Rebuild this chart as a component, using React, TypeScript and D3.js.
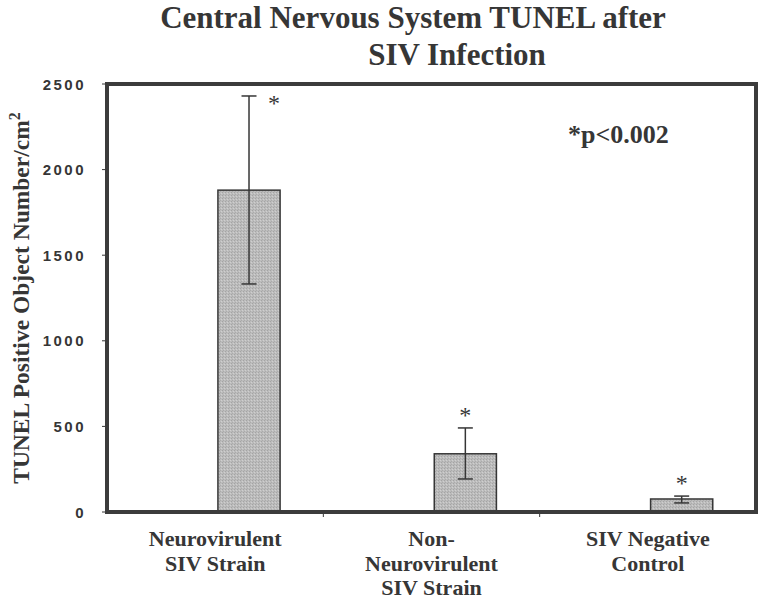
import React from "react"
import * as d3 from "d3"

// data
const categories = ["neuro", "nonNeuro", "negative"]
const categoryLabels = [
    ["Neurovirulent", "SIV Strain"],
    ["Non-", "Neurovirulent", "SIV Strain"],
    ["SIV Negative", "Control"],
]
const means = [1880, 340, 76]
const errLow = [1332, 193, 53]
const errHigh = [2430, 491, 93]
const yTicks = [0, 500, 1000, 1500, 2000, 2500]
const titleLines = ["Central Nervous System TUNEL after", "SIV Infection"]
const note = "*p<0.002"

const W = 761
const H = 600
const frame = { left: 107, right: 756, top: 84, bottom: 512 }
const serif = "'Liberation Serif', 'Times New Roman', serif"
const sans = "'Liberation Sans', Arial, sans-serif"
const ink = "#363636"

export default function App() {
    const y = d3.scaleLinear().domain([0, 2500]).range([frame.bottom, frame.top])
    const x0 = d3.scaleBand<string>().domain(categories).range([frame.left, frame.right])
    // excel-like cluster: an empty first series, bar sits in the second slot
    const x1 = d3.scaleBand<string>()
        .domain(["blank", "data"])
        .range([0, x0.bandwidth()])
        .paddingInner(0)
        .paddingOuter(0.74)
        .align(0.53)

    return (
        <svg width={W} height={H} style={{ position: "absolute", left: 0, top: 0, background: "#fff" }}>
            <defs>
                <pattern id="stipple" width="3" height="3" patternUnits="userSpaceOnUse">
                    <rect width="3" height="3" fill="#bcbcbc" />
                    <rect x="0" y="0" width="1" height="1" fill="#a4a4a4" />
                    <rect x="2" y="1" width="1" height="1" fill="#cfcfcf" />
                    <rect x="1" y="2" width="1" height="1" fill="#ababab" />
                </pattern>
            </defs>

            {/* title */}
            <text x={413} y={28} textAnchor="middle" fontFamily={serif} fontWeight="bold" fontSize={31} fill={ink}>{titleLines[0]}</text>
            <text x={457} y={65} textAnchor="middle" fontFamily={serif} fontWeight="bold" fontSize={31} fill={ink}>{titleLines[1]}</text>

            {/* y ticks */}
            {yTicks.map(t => (
                <g key={t}>
                    <line x1={frame.left - 5} x2={frame.left} y1={y(t)} y2={y(t)} stroke={ink} strokeWidth={1} />
                    <text x={86} y={y(t) + 5.5} textAnchor="end" fontFamily={sans} fontWeight="bold" fontSize={15}
                          letterSpacing={2.5} fill={ink}>{t}</text>
                </g>
            ))}

            {/* category ticks */}
            {categories.slice(1).map(c => (
                <line key={c} x1={x0(c)} x2={x0(c)} y1={frame.bottom} y2={frame.bottom + 5} stroke={ink} strokeWidth={1} />
            ))}

            {/* bars */}
            {categories.map((c, i) => {
                const bx = (x0(c) as number) + (x1("data") as number)
                const bw = x1.bandwidth()
                const cx = bx + bw / 2
                const top = y(errHigh[i])
                const roomAbove = top - frame.top > 25
                const sx = roomAbove ? cx : cx + 25
                const sy = roomAbove ? top - 16 : top + 4
                return (
                    <g key={c}>
                        <rect x={bx} y={y(means[i])} width={bw} height={frame.bottom - y(means[i])}
                              fill="url(#stipple)" stroke={ink} strokeWidth={1.5} />
                        <line x1={cx} x2={cx} y1={y(errLow[i])} y2={y(errHigh[i])} stroke={ink} strokeWidth={1.5} />
                        <line x1={cx - 7.5} x2={cx + 7.5} y1={y(errLow[i])} y2={y(errLow[i])} stroke={ink} strokeWidth={1.5} />
                        <line x1={cx - 7.5} x2={cx + 7.5} y1={y(errHigh[i])} y2={y(errHigh[i])} stroke={ink} strokeWidth={1.5} />
                        <text x={sx} y={sy + 11} textAnchor="middle" fontFamily={serif} fontSize={24} fill={ink}>*</text>
                    </g>
                )
            })}

            {/* frame */}
            <rect x={frame.left} y={frame.top} width={frame.right - frame.left} height={frame.bottom - frame.top}
                  fill="none" stroke="#3c3c3c" strokeWidth={4} />

            {/* category labels */}
            {categories.map((c, i) => (
                <text key={c} x={(x0(c) as number) + x0.bandwidth() / 2} y={546} textAnchor="middle"
                      fontFamily={serif} fontWeight="bold" fontSize={22} fill={ink}>
                    {categoryLabels[i].map((l, j) => (
                        <tspan key={j} x={(x0(c) as number) + x0.bandwidth() / 2} dy={j === 0 ? 0 : 24.5}>{l}</tspan>
                    ))}
                </text>
            ))}

            {/* y label */}
            <text transform={`translate(29, ${(frame.top + frame.bottom) / 2}) rotate(-90)`} textAnchor="middle"
                  fontFamily={serif} fontWeight="bold" fontSize={23.5} fill={ink}>
                TUNEL Positive Object Number/cm<tspan dy={-9} fontSize={16}>2</tspan>
            </text>

            {/* significance note */}
            <text x={568} y={143} fontFamily={serif} fontWeight="bold" fontSize={26} fill={ink}>{note}</text>
        </svg>
    )
}
